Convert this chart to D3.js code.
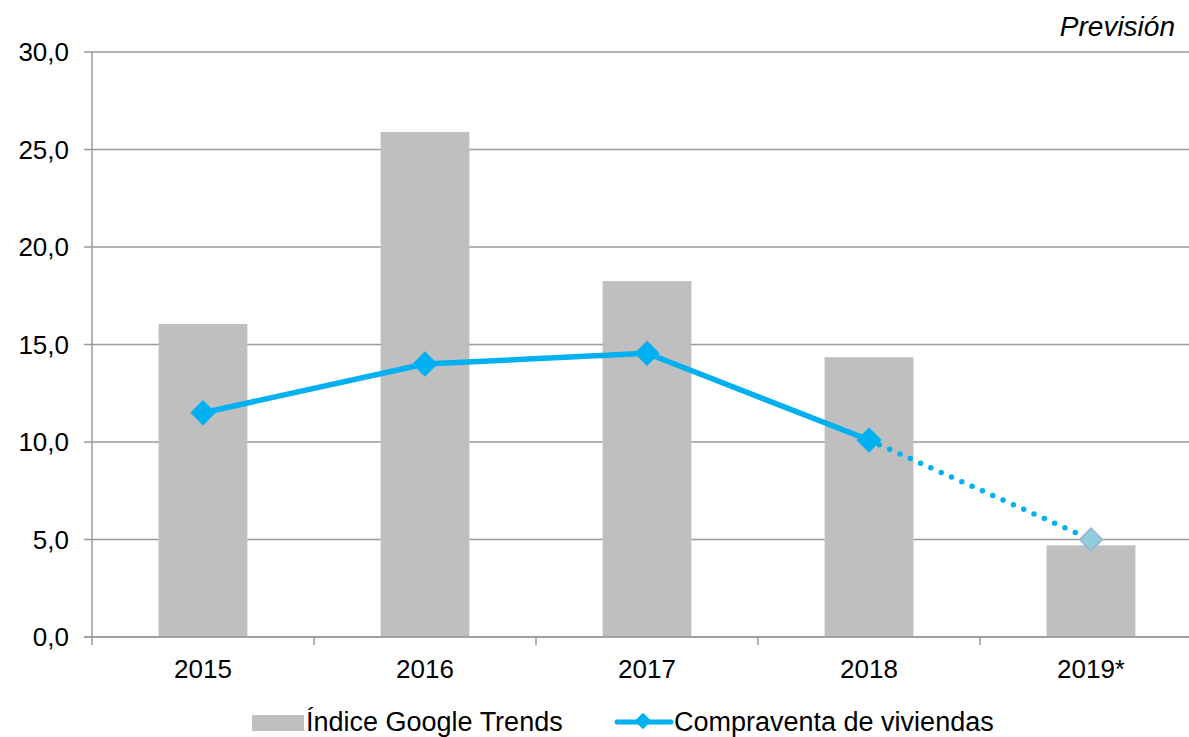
<!DOCTYPE html>
<html>
<head>
<meta charset="utf-8">
<script src="https://cdn.jsdelivr.net/npm/d3@7"></script>
<style>
  html, body { margin: 0; padding: 0; background: #fff; }
  svg { display: block; font-family: "Liberation Sans", Arial, sans-serif; }
</style>
</head>
<body>
<svg id="chart" width="1189" height="737"></svg>
<script>
// Years on the category axis (2019 is a forecast)
const years = ["2015", "2016", "2017", "2018", "2019*"];
// Google Trends index (bars)
const trendsIndex = [16.05, 25.9, 18.25, 14.35, 4.7];
// Housing sales growth (line)
const housingSales = [11.5, 14.0, 14.55, 10.1, 5.0];
// Value axis ticks
const yTicks = [0, 5, 10, 15, 20, 25, 30];

const svg = d3.select("#chart");
const plotLeft = 92, plotRight = 1202, plotTop = 52, plotBottom = 637;

const x = d3.scaleBand().domain(years).range([plotLeft, plotRight]).paddingInner(0).paddingOuter(0);
const y = d3.scaleLinear().domain([0, 30]).range([plotBottom, plotTop]);
const fmt = v => d3.format(".1f")(v).replace(".", ",");
const gridColor = "#9a9a9a";

// Horizontal gridlines with small outward ticks
svg.append("g").selectAll("line").data(yTicks).join("line")
  .attr("x1", plotLeft - 8).attr("x2", 1189)
  .attr("y1", d => y(d)).attr("y2", d => y(d))
  .attr("stroke", gridColor).attr("stroke-width", 1.5);

// Y axis labels
svg.append("g").selectAll("text").data(yTicks).join("text")
  .attr("x", plotLeft - 23).attr("y", d => y(d))
  .attr("dy", "0.36em").attr("text-anchor", "end")
  .attr("font-size", 26).attr("fill", "#000")
  .text(fmt);

// Bars
const barW = x.bandwidth() * 0.4;
svg.append("g").selectAll("rect").data(years).join("rect")
  .attr("x", d => x(d) + (x.bandwidth() - barW) / 2)
  .attr("width", barW)
  .attr("y", (d, i) => y(trendsIndex[i]))
  .attr("height", (d, i) => plotBottom - y(trendsIndex[i]))
  .attr("fill", "#bfbfbf");

// Vertical axis line
svg.append("line").attr("x1", plotLeft).attr("x2", plotLeft).attr("y1", plotTop).attr("y2", plotBottom + 8)
  .attr("stroke", gridColor).attr("stroke-width", 1.5);
// Bottom axis
svg.append("line").attr("x1", plotLeft - 8).attr("x2", 1189).attr("y1", plotBottom).attr("y2", plotBottom)
  .attr("stroke", gridColor).attr("stroke-width", 1.5);
// Category separator ticks
svg.append("g").selectAll("line").data(years.slice(1)).join("line")
  .attr("x1", d => x(d)).attr("x2", d => x(d))
  .attr("y1", plotBottom).attr("y2", plotBottom + 8)
  .attr("stroke", gridColor).attr("stroke-width", 1.5);

// X labels
svg.append("g").selectAll("text").data(years).join("text")
  .attr("x", d => x(d) + x.bandwidth() / 2).attr("y", 678)
  .attr("text-anchor", "middle").attr("font-size", 26).attr("fill", "#000")
  .text(d => d);

const cx = i => x(years[i]) + x.bandwidth() / 2;
const blue = "#00b0f0";

// Solid line for actual years
const line = d3.line().x(d => cx(d)).y(d => y(housingSales[d]));
svg.append("path").datum([0, 1, 2, 3]).attr("d", line)
  .attr("fill", "none").attr("stroke", blue).attr("stroke-width", 5.5)
  .attr("stroke-linejoin", "round");

// Dotted forecast segment
svg.append("path").datum([3, 4]).attr("d", line)
  .attr("fill", "none").attr("stroke", blue).attr("stroke-width", 5.5)
  .attr("stroke-linecap", "round").attr("stroke-dasharray", "0 11.3");

// Diamond markers
svg.append("g").selectAll("path").data([0, 1, 2, 3]).join("path")
  .attr("d", d3.symbol().type(d3.symbolSquare).size(320)())
  .attr("transform", d => `translate(${cx(d)},${y(housingSales[d])}) rotate(45)`)
  .attr("fill", blue);
svg.append("path")
  .attr("d", d3.symbol().type(d3.symbolSquare).size(260)())
  .attr("transform", `translate(${cx(4)},${y(housingSales[4])}) rotate(45)`)
  .attr("fill", "#92cddc").attr("stroke", "#95b3d7").attr("stroke-width", 1.5);

// Forecast annotation
svg.append("text").attr("x", 1175).attr("y", 36).attr("text-anchor", "end")
  .attr("font-size", 28).attr("font-style", "italic").attr("fill", "#000")
  .text("Previsión");

// Legend
const lg = svg.append("g");
lg.append("rect").attr("x", 252).attr("y", 715).attr("width", 52).attr("height", 16).attr("fill", "#bfbfbf");
lg.append("text").attr("x", 306).attr("y", 731).attr("font-size", 27).attr("fill", "#000")
  .text("Índice Google Trends");
lg.append("line").attr("x1", 617).attr("x2", 671).attr("y1", 722).attr("y2", 722)
  .attr("stroke", blue).attr("stroke-width", 5).attr("stroke-linecap", "round");
lg.append("path").attr("d", d3.symbol().type(d3.symbolSquare).size(140)())
  .attr("transform", "translate(643,721) rotate(45)").attr("fill", blue);
lg.append("text").attr("x", 674).attr("y", 731).attr("font-size", 27).attr("fill", "#000")
  .text("Compraventa de viviendas");
</script>
</body>
</html>
